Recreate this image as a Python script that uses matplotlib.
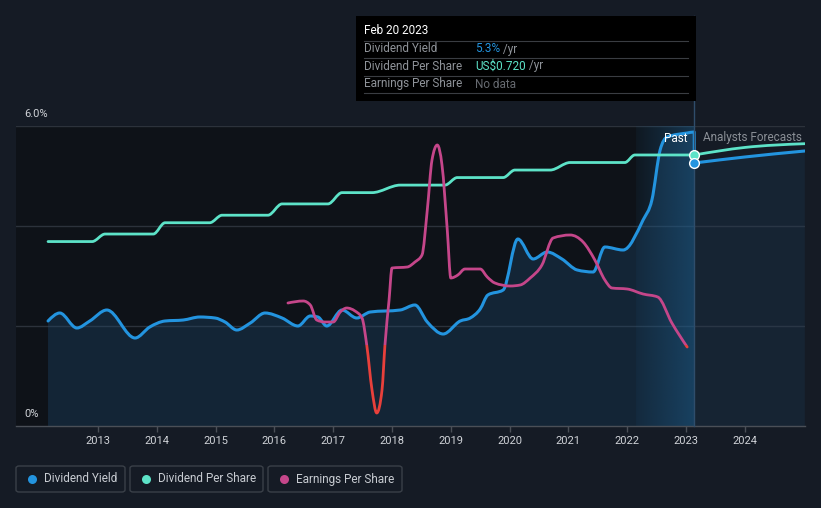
import numpy as np
import matplotlib
matplotlib.use("Agg")
import matplotlib.pyplot as plt
from matplotlib.patches import Rectangle, FancyBboxPatch, PathPatch
from matplotlib.path import Path
from matplotlib.lines import Line2D

plt.rcParams['font.family'] = ['Roboto', 'DejaVu Sans']

# ---------------- data ----------------
yield_years = [2012.15, 2012.35, 2012.64, 2012.86, 2013.15, 2013.63, 2013.88, 2014.14, 2014.45,
               2014.73, 2014.99, 2015.16, 2015.36, 2015.59, 2015.84, 2016.13, 2016.40, 2016.61,
               2016.74, 2016.89, 2017.15, 2017.40, 2017.63, 2018.14, 2018.39, 2018.60, 2018.87,
               2019.16, 2019.33, 2019.50, 2019.63, 2019.89, 2020.14, 2020.40, 2020.64, 2020.89,
               2021.15, 2021.42, 2021.62, 2021.93, 2022.27, 2022.42, 2022.56, 2022.68, 2023.02,
               2023.14, 2023.141]
yield_pct = [2.10, 2.26, 1.96, 2.10, 2.32, 1.76, 1.98, 2.10, 2.12,
             2.18, 2.16, 2.08, 1.92, 2.06, 2.26, 2.16, 2.00, 2.20,
             2.18, 2.00, 2.32, 2.16, 2.28, 2.32, 2.42, 2.08, 1.84,
             2.10, 2.16, 2.34, 2.62, 2.72, 3.74, 3.34, 3.48, 3.34,
             3.12, 3.08, 3.58, 3.52, 4.12, 4.52, 5.52, 5.78, 5.86,
             5.88, 5.26]
yield_fc_years = [2023.14, 2024.0, 2025.02]
yield_fc_pct = [5.26, 5.38, 5.50]

dps_years = [2012.15, 2012.90, 2013.12, 2013.94, 2014.14, 2014.90, 2015.11, 2015.89, 2016.13,
             2016.91, 2017.15, 2017.66, 2018.14, 2018.90, 2019.11, 2019.89, 2020.09, 2020.69,
             2021.03, 2021.96, 2022.13, 2023.14]
dps_usd = [0.49, 0.49, 0.51, 0.51, 0.54, 0.54, 0.56, 0.56, 0.59,
           0.59, 0.62, 0.62, 0.64, 0.64, 0.66, 0.66, 0.68, 0.68,
           0.70, 0.70, 0.72, 0.72]
dps_fc_years = [2023.14, 2024.0, 2025.02]
dps_fc_usd = [0.72, 0.74, 0.75]

eps_years = [2016.23, 2016.49, 2016.61, 2016.72, 2016.86, 2017.00, 2017.12, 2017.23, 2017.37,
             2017.49, 2017.57, 2017.66, 2017.74, 2017.83, 2017.88, 2017.95, 2018.00, 2018.26,
             2018.39, 2018.51, 2018.60, 2018.68, 2018.77, 2018.85, 2018.94, 2019.00, 2019.12,
             2019.24, 2019.50, 2019.62, 2019.75, 2020.01, 2020.18, 2020.35, 2020.55, 2020.74,
             2021.03, 2021.25, 2021.45, 2021.62, 2021.74, 2022.00, 2022.27, 2022.52, 2022.76,
             2023.02]
eps_usd = [0.42, 0.44, 0.40, 0.25, 0.23, 0.23, 0.33, 0.37, 0.34,
           0.27, 0.00, -0.45, -0.68, -0.45, 0.00, 0.45, 0.77, 0.78,
           0.83, 0.90, 1.35, 1.85, 2.00, 1.80, 1.15, 0.67, 0.70,
           0.76, 0.76, 0.68, 0.62, 0.59, 0.60, 0.67, 0.80, 1.07,
           1.10, 1.03, 0.85, 0.65, 0.57, 0.56, 0.51, 0.48, 0.22,
           -0.02]

year_ticks = list(range(2013, 2025))
now = 2023.14
past_start = 2022.15

# ---------------- style ----------------
BG = '#151b25'
DARK = '#0e1218'
BLUE = '#2394df'
TEAL = '#5de3c8'
PINK = '#c5468a'
RED = '#e8403b'
GRID = '#2c323b'


def monotone_verts(xs, ys):
    """Monotone-X cubic Bezier path vertices (d3 curveMonotoneX style rendering)."""
    x = np.asarray(xs, float)
    y = np.asarray(ys, float)
    n = len(x)
    h = np.diff(x)
    h[h == 0] = 1e-9
    s = np.diff(y) / h
    t = np.zeros(n)
    for i in range(1, n - 1):
        if s[i - 1] * s[i] <= 0:
            t[i] = 0.0
        else:
            p = (s[i - 1] * h[i] + s[i] * h[i - 1]) / (h[i - 1] + h[i])
            t[i] = np.sign(s[i - 1]) * min(abs(s[i - 1]), abs(s[i]), 0.5 * abs(p)) * 2 if False else \
                (np.sign(s[i - 1]) + np.sign(s[i])) * min(abs(s[i - 1]), abs(s[i]), 0.5 * abs(p))
    if n > 1:
        t[0] = (3 * s[0] - t[1]) / 2 if n > 2 else s[0]
        t[-1] = (3 * s[-1] - t[-2]) / 2 if n > 2 else s[-1]
    verts = [(x[0], y[0])]
    codes = [Path.MOVETO]
    for i in range(n - 1):
        d = h[i] / 3
        verts += [(x[i] + d, y[i] + d * t[i]), (x[i + 1] - d, y[i + 1] - d * t[i + 1]), (x[i + 1], y[i + 1])]
        codes += [Path.CURVE4] * 3
    return verts, codes


def smooth_line(axis, xs, ys, color, lw, zorder=5, clip=None):
    v, c = monotone_verts(xs, ys)
    p = PathPatch(Path(v, c), facecolor='none', edgecolor=color, lw=lw, zorder=zorder,
                  capstyle='round', joinstyle='round')
    axis.add_patch(p)
    if clip is not None:
        p.set_clip_path(clip)
    return p


def smooth_fill(axis, xs, ys, color, alpha, zorder=2):
    v, c = monotone_verts(xs, ys)
    v = v + [(xs[-1], 0), (xs[0], 0), (xs[0], ys[0])]
    c = c + [Path.LINETO, Path.LINETO, Path.CLOSEPOLY]
    p = PathPatch(Path(v, c), facecolor=color, edgecolor='none', alpha=alpha, zorder=zorder)
    axis.add_patch(p)
    return p


W, H = 821, 508
fig = plt.figure(figsize=(W / 100, H / 100), dpi=100, facecolor=BG)


def fx(px):
    return px / W


def fy(py):
    return 1 - py / H


ax = fig.add_axes([fx(16), fy(426), fx(805) - fx(16), (426 - 126) / H])
ax.set_facecolor(BG)
x0, x1 = 2011.605, 2025.024

# dark past background
ax.axvspan(x0, now, color=DARK, zorder=0, lw=0)

# gridlines
for g in [2.0, 4.0, 6.0]:
    ax.axhline(g, color=GRID, lw=1.0, zorder=1)

# fill under yield
smooth_fill(ax, yield_years, yield_pct, '#1f4a70', 0.35)
smooth_fill(ax, yield_fc_years, yield_fc_pct, '#1f4a70', 0.2)

# past highlight gradient
grad = np.zeros((2, 100, 4))
c = matplotlib.colors.to_rgb('#1f6496')
grad[..., 0], grad[..., 1], grad[..., 2] = c
grad[..., 3] = np.linspace(0.08, 0.45, 100)[None, :]
ax.imshow(grad, extent=[past_start, now, 0, 6.0], aspect='auto', zorder=2.5, interpolation='bilinear')
ax.set_xlim(x0, x1)
ax.set_ylim(0, 6.0)

smooth_line(ax, yield_years, yield_pct, BLUE, 2.2)
smooth_line(ax, yield_fc_years, yield_fc_pct, BLUE, 2.2)

# vertical now line
ax.axvline(now, ymin=0, ymax=(426 - 16) / 300, color='#2f4d6b', lw=1.0, zorder=6, clip_on=False)

# axes styling
for s in ['top', 'right', 'left']:
    ax.spines[s].set_visible(False)
ax.spines['bottom'].set_color('#4a4f57')
ax.spines['bottom'].set_linewidth(1.0)
ax.set_yticks([])
ax.set_xticks(year_ticks)
ax.set_xticklabels([str(y) for y in year_ticks])
ax.tick_params(axis='x', colors='#4a4f57', labelcolor='#d0d3d8', labelsize=8, length=4, width=1, pad=3)

# DPS axis
axd = ax.twinx()
axd.set_ylim(0, 0.797)
axd.set_xlim(x0, x1)
axd.axis('off')
smooth_line(axd, dps_years, dps_usd, TEAL, 2.0)
smooth_line(axd, dps_fc_years, dps_fc_usd, TEAL, 2.0)

# EPS axis
axe = ax.twinx()
axe.set_ylim(-0.81, 2.19)
axe.set_xlim(x0, x1)
axe.axis('off')
rp = Rectangle((x0, 0.0), x1 - x0, 10, transform=axe.transData)
rr = Rectangle((x0, -10), x1 - x0, 10.0, transform=axe.transData)
smooth_line(axe, eps_years, eps_usd, PINK, 2.0, clip=rp)
smooth_line(axe, eps_years, eps_usd, RED, 2.0, clip=rr)

# markers at now
axd.plot([now], [0.72], marker='o', ms=7, mfc=TEAL, mec='white', mew=1.0, zorder=10, clip_on=False)
axe.plot([now], [(5.26 / 6.0) * 3.0 - 0.81], marker='o', ms=7, mfc=BLUE, mec='white', mew=1.0,
         zorder=10, clip_on=False)

# y labels
fig.text(fx(24), fy(114), '6.0%', color='#d0d3d8', fontsize=8, va='center', ha='left')
fig.text(fx(24), fy(414), '0%', color='#d0d3d8', fontsize=8, va='center', ha='left')

# Past / forecast labels
fig.text(fx(687), fy(138), 'Past', color='white', fontsize=8.5, va='center', ha='right')
fig.text(fx(703), fy(138), 'Analysts Forecasts', color='#8a8f96', fontsize=8.5, va='center', ha='left')

# tooltip
tb = Rectangle((fx(356), fy(101)), fx(696) - fx(356), (101 - 16) / H, transform=fig.transFigure,
               facecolor='#000000', edgecolor='none', zorder=20)
fig.patches.append(tb)
fig.text(fx(364), fy(31), 'Feb 20 2023', color='white', fontsize=8.5, va='center', ha='left', zorder=21)
for sy in [41, 58, 76, 93]:
    fig.add_artist(Line2D([fx(364), fx(688)], [fy(sy), fy(sy)], transform=fig.transFigure,
                          color='#3a3d42', lw=0.8, zorder=21))
rows = [(49, 'Dividend Yield', '5.3%', BLUE, ' /yr'),
        (66, 'Dividend Per Share', 'US$0.720', TEAL, ' /yr'),
        (84, 'Earnings Per Share', 'No data', '#666a70', '')]
for ry, lab, val, col, suf in rows:
    fig.text(fx(364), fy(ry), lab, color='#8f9399', fontsize=8.5, va='center', ha='left', zorder=21)
    t = fig.text(fx(475), fy(ry), val, color=col, fontsize=8.5, va='center', ha='left', zorder=21)
    if suf:
        fig.canvas.draw()
        bb = t.get_window_extent()
        fig.text(bb.x1 / W, fy(ry), suf, color='#8f9399', fontsize=8.5, va='center', ha='left', zorder=21)

# legend
legend_items = [(16, 125, BLUE, 'Dividend Yield'),
                (130, 263, TEAL, 'Dividend Per Share'),
                (268, 402, PINK, 'Earnings Per Share')]
for lx0, lx1, col, lab in legend_items:
    box = FancyBboxPatch((fx(lx0), fy(492)), fx(lx1) - fx(lx0), (492 - 466) / H,
                         boxstyle='round,pad=0,rounding_size=0.004', transform=fig.transFigure,
                         facecolor='none', edgecolor='#3a4048', lw=1.0)
    fig.patches.append(box)
    fig.add_artist(Line2D([fx(lx0 + 16)], [fy(479)], marker='o', ms=6.5, color=col, mec='none',
                          transform=fig.transFigure))
    fig.text(fx(lx0 + 28), fy(479), lab, color='#c8ccd2', fontsize=8.5, va='center', ha='left')

fig.savefig('out.png', dpi=100, facecolor=BG)
